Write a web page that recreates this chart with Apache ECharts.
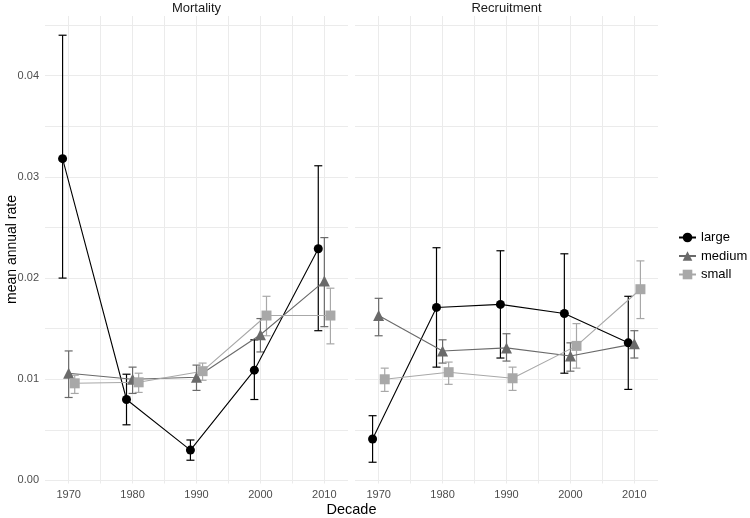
<!DOCTYPE html>
<html>
<head>
<meta charset="utf-8">
<script src="https://cdn.jsdelivr.net/npm/echarts@6/dist/echarts.min.js"></script>
<style>
html,body{margin:0;padding:0;background:#fff;}
#chart{width:750px;height:518px;}
</style>
</head>
<body>
<div id="chart"></div>
<script>
// ---- data ----
const years = [1970, 1980, 1990, 2000, 2010];
const sizeClasses = ['large', 'medium', 'small'];
const panels = ['Mortality', 'Recruitment'];
const xTickLabels = [1970, 1980, 1990, 2000, 2010];
const xGridValues = [1970, 1975, 1980, 1985, 1990, 1995, 2000, 2005, 2010];
const yTickLabels = [0, 0.01, 0.02, 0.03, 0.04];
const yGridValues = [0, 0.005, 0.01, 0.015, 0.02, 0.025, 0.03, 0.035, 0.04, 0.045];

// Mortality
const mortLarge    = [0.0318, 0.0080, 0.0030, 0.0109, 0.0229];
const mortLargeLo  = [0.0200, 0.0055, 0.0020, 0.0080, 0.0148];
const mortLargeHi  = [0.0440, 0.0105, 0.0040, 0.0139, 0.0311];
const mortMedium   = [0.0106, 0.0100, 0.0102, 0.0144, 0.0197];
const mortMediumLo = [0.0082, 0.0086, 0.0089, 0.0127, 0.0152];
const mortMediumHi = [0.0128, 0.0112, 0.0114, 0.0160, 0.0240];
const mortSmall    = [0.0096, 0.0097, 0.0108, 0.0163, 0.0163];
const mortSmallLo  = [0.0086, 0.0087, 0.0099, 0.0143, 0.0135];
const mortSmallHi  = [0.0104, 0.0106, 0.0116, 0.0182, 0.0190];

// Recruitment
const recLarge    = [0.0041, 0.0171, 0.0174, 0.0165, 0.0136];
const recLargeLo  = [0.0018, 0.0112, 0.0121, 0.0106, 0.0090];
const recLargeHi  = [0.0064, 0.0230, 0.0227, 0.0224, 0.0182];
const recMedium   = [0.0163, 0.0128, 0.0131, 0.0123, 0.0135];
const recMediumLo = [0.0143, 0.0116, 0.0118, 0.0108, 0.0121];
const recMediumHi = [0.0180, 0.0139, 0.0145, 0.0136, 0.0148];
const recSmall    = [0.0100, 0.0107, 0.0101, 0.0133, 0.0189];
const recSmallLo  = [0.0088, 0.0095, 0.0089, 0.0111, 0.0160];
const recSmallHi  = [0.0111, 0.0117, 0.0112, 0.0155, 0.0217];

// ---- styling / layout ----
const FONT = '"Liberation Sans", Arial, sans-serif';
const colors = { large: '#000000', medium: '#6a6a6a', small: '#a8a8a8' };
const symbols = { large: 'circle', medium: 'triangle', small: 'rect' };
const symbolSizes = { large: 9, medium: 11, small: 10 };
const dodge = { large: -0.95, medium: 0, small: 0.95 };

const panelData = [
  { large: [mortLarge, mortLargeLo, mortLargeHi], medium: [mortMedium, mortMediumLo, mortMediumHi], small: [mortSmall, mortSmallLo, mortSmallHi] },
  { large: [recLarge, recLargeLo, recLargeHi], medium: [recMedium, recMediumLo, recMediumHi], small: [recSmall, recSmallLo, recSmallHi] }
];

const gridColor = '#ebebeb';
const grids = [
  { left: 45, top: 16, width: 303, height: 467.5, outerBoundsMode: 'none' },
  { left: 355, top: 16, width: 303, height: 467.5, outerBoundsMode: 'none' }
];

const xAxes = grids.map((g, i) => ({
  type: 'value', gridIndex: i, min: 1966.3, max: 2013.7,
  axisLine: { show: false },
  axisTick: { show: false, customValues: xGridValues },
  axisLabel: { customValues: xTickLabels, color: '#4d4d4d', fontFamily: FONT, fontSize: 11, margin: 6, formatter: v => String(v) },
  splitLine: { show: true, lineStyle: { color: gridColor, width: 1 } }
}));
const yAxes = grids.map((g, i) => ({
  type: 'value', gridIndex: i, min: -0.0003, max: 0.0459,
  axisLine: { show: false },
  axisTick: { show: false, customValues: yGridValues },
  axisLabel: { show: i === 0, customValues: yTickLabels, color: '#4d4d4d', fontFamily: FONT, fontSize: 11, margin: 6, formatter: v => v.toFixed(2) },
  splitLine: { show: true, lineStyle: { color: gridColor, width: 1 } }
}));

const series = [];
panelData.forEach((pd, p) => {
  sizeClasses.forEach(sc => {
    const [mean, lo, hi] = pd[sc];
    series.push({
      type: 'line', name: sc, xAxisIndex: p, yAxisIndex: p, z: 3,
      data: years.map((y, k) => [y + dodge[sc], mean[k]]),
      symbol: symbols[sc], symbolSize: symbolSizes[sc], showAllSymbol: true,
      itemStyle: { color: colors[sc], borderWidth: 0 },
      lineStyle: { color: colors[sc], width: 1.1 },
      emphasis: { disabled: true },
      animation: false
    });
    series.push({
      type: 'custom', name: sc + ' error', xAxisIndex: p, yAxisIndex: p, z: 1,
      data: years.map((y, k) => [y + dodge[sc], lo[k], hi[k]]),
      encode: { x: 0, y: [1, 2] },
      itemStyle: { color: colors[sc] },
      renderItem: (params, api) => {
        const top = api.coord([api.value(0), api.value(2)]);
        const bot = api.coord([api.value(0), api.value(1)]);
        const hw = 4;
        const st = { stroke: colors[sc], lineWidth: 1.2 };
        return { type: 'group', children: [
          { type: 'line', shape: { x1: top[0], y1: top[1], x2: bot[0], y2: bot[1] }, style: st },
          { type: 'line', shape: { x1: top[0] - hw, y1: top[1], x2: top[0] + hw, y2: top[1] }, style: st },
          { type: 'line', shape: { x1: bot[0] - hw, y1: bot[1], x2: bot[0] + hw, y2: bot[1] }, style: st }
        ]};
      },
      silent: true
    });
  });
});

const chart = echarts.init(document.getElementById('chart'), null, { renderer: 'canvas' });
chart.setOption({
  animation: false,
  backgroundColor: '#ffffff',
  grid: grids,
  xAxis: xAxes,
  yAxis: yAxes,
  series: series,
  legend: {
    orient: 'vertical', left: 678, top: 231, padding: 0,
    data: sizeClasses,
    itemWidth: 17, itemHeight: 12, itemGap: 5.5,
    textStyle: { fontFamily: FONT, fontSize: 13, color: '#000' },
    selectedMode: false
  },
  graphic: [
    { type: 'text', x: 196.5, y: 8, style: { text: panels[0], font: '13px ' + FONT, fill: '#1a1a1a', align: 'center', verticalAlign: 'middle' } },
    { type: 'text', x: 506.5, y: 8, style: { text: panels[1], font: '13px ' + FONT, fill: '#1a1a1a', align: 'center', verticalAlign: 'middle' } },
    { type: 'text', x: 351.5, y: 510, style: { text: 'Decade', font: '14.5px ' + FONT, fill: '#000', align: 'center', verticalAlign: 'middle' } },
    { type: 'text', x: 12, y: 249.5, rotation: Math.PI / 2, style: { text: 'mean annual rate', font: '14px ' + FONT, fill: '#000', align: 'center', verticalAlign: 'middle' } }
  ]
});
</script>
</body>
</html>
